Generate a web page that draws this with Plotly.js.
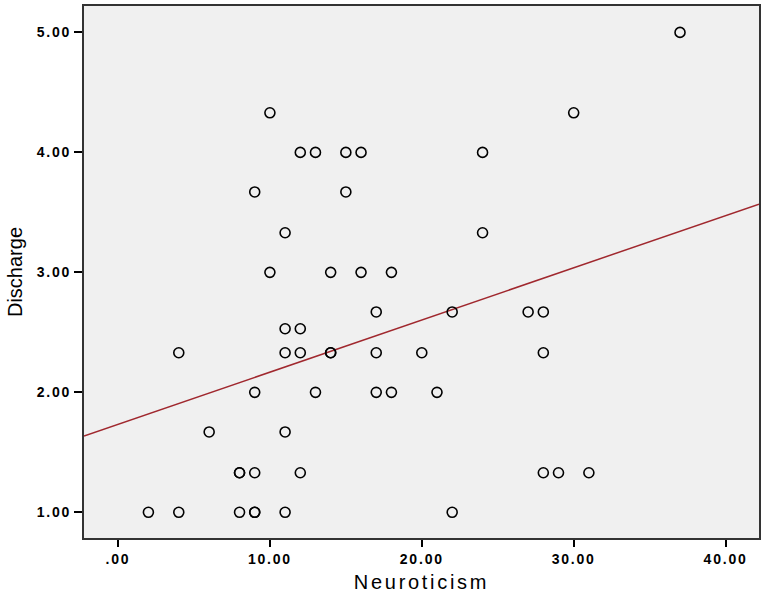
<!DOCTYPE html>
<html>
<head>
<meta charset="utf-8">
<script src="https://cdn.plot.ly/plotly-3.0.1.min.js"></script>
<style>
  html, body { margin: 0; padding: 0; background: #ffffff; }
  #chart { width: 768px; height: 598px; }
  #chart .xtick text, #chart .ytick text {
    letter-spacing: 1.8px !important;
    font-size: 14px !important;
    font-weight: 700 !important;
    font-family: "Liberation Sans", Arial, sans-serif !important;
  }
  #chart .g-xtitle text { letter-spacing: 2.7px; }
</style>
</head>
<body>
<div id="chart"></div>
<script>
// Neuroticism (x) and Discharge (y)
const neuroticism = [
  37,
  10, 30,
  12, 13, 15, 16, 24,
  9, 15,
  11, 24,
  10, 14, 16, 18,
  17, 22, 27, 28,
  11, 12,
  4, 11, 12, 14, 14, 17, 20, 28,
  9, 13, 17, 18, 21,
  6, 11,
  8, 8, 9, 12, 28, 29, 31,
  2, 4, 8, 9, 9, 11, 22
];
const discharge = [
  5.00,
  4.33, 4.33,
  4.00, 4.00, 4.00, 4.00, 4.00,
  3.67, 3.67,
  3.33, 3.33,
  3.00, 3.00, 3.00, 3.00,
  2.67, 2.67, 2.67, 2.67,
  2.53, 2.53,
  2.33, 2.33, 2.33, 2.33, 2.33, 2.33, 2.33, 2.33,
  2.00, 2.00, 2.00, 2.00, 2.00,
  1.67, 1.67,
  1.33, 1.33, 1.33, 1.33, 1.33, 1.33, 1.33,
  1.00, 1.00, 1.00, 1.00, 1.00, 1.00, 1.00
];
// Fit line (linear)
const fitIntercept = 1.733;
const fitSlope = 0.0435;

const xTickVals = [0, 10, 20, 30, 40];
const xTickText = ['.00', '10.00', '20.00', '30.00', '40.00'];
const yTickVals = [1, 2, 3, 4, 5];
const yTickText = ['1.00', '2.00', '3.00', '4.00', '5.00'];

const xRange = [-2.24, 42.2];
const yRange = [0.786, 5.22];

const fitX = xRange.slice();
const fitY = fitX.map(x => fitIntercept + fitSlope * x);

const traces = [
  {
    type: 'scatter',
    mode: 'lines',
    x: fitX,
    y: fitY,
    line: { color: '#a0282e', width: 1.5 },
    hoverinfo: 'skip',
    showlegend: false
  },
  {
    type: 'scatter',
    mode: 'markers',
    x: neuroticism,
    y: discharge,
    marker: {
      symbol: 'circle-open',
      size: 10,
      color: '#000000',
      line: { color: '#000000', width: 1.6 }
    },
    showlegend: false
  }
];

const tickFont = { family: 'Liberation Sans, Arial, sans-serif', size: 14, color: '#000000', weight: 'bold' };
const titleFont = { family: 'Liberation Sans, Arial, sans-serif', size: 20, color: '#000000' };

const layout = {
  width: 768,
  height: 598,
  margin: { l: 84, r: 9, t: 6, b: 60 },
  paper_bgcolor: '#ffffff',
  plot_bgcolor: '#f0f0f0',
  showlegend: false,
  xaxis: {
    range: xRange,
    tickmode: 'array',
    tickvals: xTickVals,
    ticktext: xTickText,
    ticks: 'outside',
    ticklen: 7,
    tickwidth: 2,
    tickcolor: '#000000',
    tickfont: tickFont,
    showgrid: false,
    zeroline: false,
    showline: true,
    mirror: true,
    linecolor: '#333333',
    linewidth: 2,
    title: { text: 'Neuroticism', font: titleFont, standoff: 9 }
  },
  yaxis: {
    range: yRange,
    tickmode: 'array',
    tickvals: yTickVals,
    ticktext: yTickText,
    ticks: 'outside',
    ticklen: 8,
    tickwidth: 2,
    tickcolor: '#000000',
    tickfont: tickFont,
    showgrid: false,
    zeroline: false,
    showline: true,
    mirror: true,
    linecolor: '#333333',
    linewidth: 2,
    title: { text: 'Discharge', font: titleFont, standoff: 16 }
  }
};

Plotly.newPlot('chart', traces, layout, { displayModeBar: false, staticPlot: true });
</script>
</body>
</html>
